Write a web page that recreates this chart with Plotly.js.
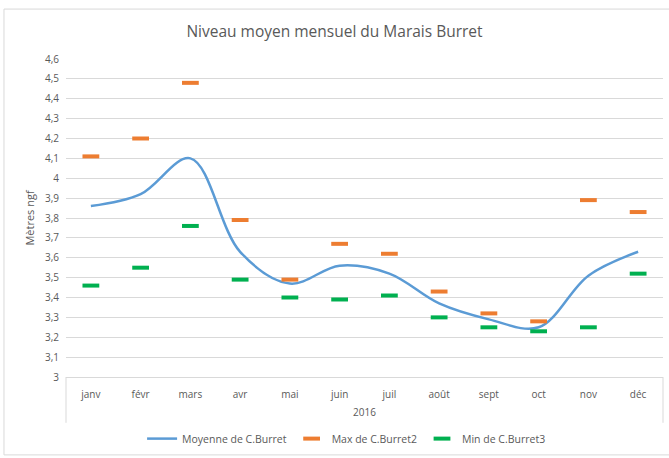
<!DOCTYPE html>
<html>
<head>
<meta charset="utf-8">
<script src="https://cdn.plot.ly/plotly-3.0.1.min.js"></script>
<style>html,body{margin:0;padding:0;background:#fff;}#chart{width:669px;height:458px;}</style>
</head>
<body>
<div id="chart"></div>
<script>
const year = "2016";
const months = ["janv","févr","mars","avr","mai","juin","juil","août","sept","oct","nov","déc"];
const moyenne = [3.86,3.92,4.10,3.63,3.47,3.56,3.52,3.37,3.29,3.25,3.51,3.63];
const maxVals = [4.11,4.20,4.48,3.79,3.49,3.67,3.62,3.43,3.32,3.28,3.89,3.83];
const minVals = [3.46,3.55,3.76,3.49,3.40,3.39,3.41,3.30,3.25,3.23,3.25,3.52];
const yTicks = [3,3.1,3.2,3.3,3.4,3.5,3.6,3.7,3.8,3.9,4,4.1,4.2,4.3,4.4,4.5,4.6];

const font = "Open Sans, Liberation Sans, sans-serif";
const gray = "#595959";
const lineGray = "#d9d9d9";

const traces = [
  {x:months, y:moyenne, type:"scatter", mode:"lines", name:"Moyenne de C.Burret",
   line:{color:"#5b9bd5", width:2.5, shape:"spline", smoothing:1}},
  {x:months, y:maxVals, type:"scatter", mode:"markers", name:"Max de C.Burret2",
   marker:{symbol:"line-ew", size:12, color:"#ed7d31", line:{color:"#ed7d31", width:4}}},
  {x:months, y:minVals, type:"scatter", mode:"markers", name:"Min de C.Burret3",
   marker:{symbol:"line-ew", size:12, color:"#00b050", line:{color:"#00b050", width:4}}}
];

const layout = {
  width:669, height:458,
  margin:{l:66, r:6, t:59, b:80},
  paper_bgcolor:"#fff", plot_bgcolor:"#fff",
  font:{family:font, color:gray, size:11},
  title:{text:"Niveau moyen mensuel du Marais Burret", x:0.5, xanchor:"center", y:0.932, yanchor:"middle",
         font:{family:font, size:15.5, color:gray}},
  xaxis:{type:"category", range:[-0.5, months.length-0.5], automargin:false, showgrid:false, zeroline:false, showline:true,
         linecolor:lineGray, linewidth:1, ticks:"", ticklabelstandoff:8,
         tickfont:{family:font, size:10, color:gray}, fixedrange:true},
  yaxis:{range:[3,4.6], automargin:false, tickvals:yTicks, ticktext:yTicks.map(v=>String(v).replace(".",",")),
         showgrid:true, gridcolor:lineGray, gridwidth:1, zeroline:false, showline:false,
         tickfont:{family:font, size:10, color:gray}, ticks:"", ticklabelstandoff:6,
         title:{text:"Mètres ngf", font:{family:font, size:11, color:gray}, standoff:8}},
  showlegend:true,
  legend:{orientation:"h", x:0.47, xanchor:"center", y:-0.19, yanchor:"middle",
          font:{family:font, size:10.5, color:gray}, itemwidth:30, tracegroupgap:0},
  annotations:[{text:year, xref:"paper", yref:"paper", x:0.5, y:-0.1097, xanchor:"center", yanchor:"middle",
                showarrow:false, font:{family:font, size:10, color:gray}}],
  shapes:[
    {type:"line", xref:"paper", yref:"paper", x0:0, x1:0, y0:0, y1:-0.144, line:{color:lineGray, width:1}},
    {type:"line", xref:"paper", yref:"paper", x0:1, x1:1, y0:0, y1:-0.144, line:{color:lineGray, width:1}},
    {type:"rect", xref:"paper", yref:"paper", x0:-0.1039, x1:1.02, y0:-0.245, y1:1.157,
     line:{color:lineGray, width:1}, fillcolor:"rgba(0,0,0,0)", layer:"below"}
  ]
};

Plotly.newPlot("chart", traces, layout, {displayModeBar:false, staticPlot:true});
</script>
</body>
</html>
